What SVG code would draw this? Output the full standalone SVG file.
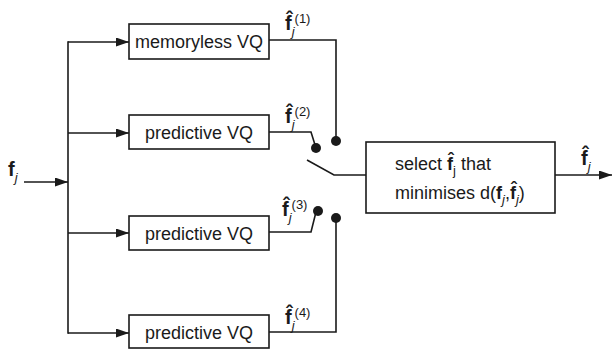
<svg xmlns="http://www.w3.org/2000/svg" width="612" height="350" viewBox="0 0 612 350">
  <style>
    .box { fill: #fff; stroke: #1a1a1a; stroke-width: 1.6; }
    .ln { fill: none; stroke: #1a1a1a; stroke-width: 1.6; }
    .t { font-family: "Liberation Sans", Arial, sans-serif; font-size: 18px; fill: #1a1a1a; }
    .lab { font-family: "Liberation Sans", Arial, sans-serif; font-size: 20px; fill: #1a1a1a; }
    .b { font-weight: bold; }
    .i { font-style: italic; }
    .s { font-size: 13px; }
    .dot { fill: #1a1a1a; }
  </style>
  <defs>
    <marker id="arr" markerWidth="13" markerHeight="9" refX="13" refY="4.5" orient="auto" markerUnits="userSpaceOnUse">
      <path d="M0,0 L13,4.5 L0,9 Z" fill="#1a1a1a"/>
    </marker>
  </defs>

  <rect width="612" height="350" fill="#fff"/>

  <g id="connectors">
    <!-- input and fan-out -->
    <line class="ln" x1="24" y1="182" x2="68" y2="182" marker-end="url(#arr)"/>
    <line class="ln" x1="68" y1="41.2" x2="68" y2="333.8"/>
    <line class="ln" x1="68" y1="42" x2="129" y2="42" marker-end="url(#arr)"/>
    <line class="ln" x1="68" y1="133" x2="129" y2="133" marker-end="url(#arr)"/>
    <line class="ln" x1="68" y1="233" x2="129" y2="233" marker-end="url(#arr)"/>
    <line class="ln" x1="68" y1="333" x2="129" y2="333" marker-end="url(#arr)"/>
    <!-- quantiser outputs to switch contacts -->
    <polyline class="ln" points="269,40 336,40 336,141"/>
    <polyline class="ln" points="269,132 311,132 316,148"/>
    <polyline class="ln" points="269,232 311,232 316,212"/>
    <polyline class="ln" points="269,332 336,332 336,218"/>
    <circle class="dot" cx="336" cy="141" r="5"/>
    <circle class="dot" cx="316" cy="148" r="5"/>
    <circle class="dot" cx="318" cy="211" r="5"/>
    <circle class="dot" cx="336" cy="218" r="5"/>
    <!-- switch arm -->
    <polyline class="ln" points="307,160 334,175 366,175"/>
    <!-- output -->
    <line class="ln" x1="555" y1="175" x2="612" y2="175" marker-end="url(#arr)"/>
  </g>

  <g id="input-label">
    <text class="lab" x="8" y="176"><tspan class="b">f</tspan><tspan class="i s" dy="6">j</tspan></text>
  </g>

  <g id="vq1">
    <rect class="box" x="129" y="24" width="140" height="35"/>
    <text class="t" x="199" y="48" text-anchor="middle">memoryless VQ</text>
  </g>
  <g id="vq2">
    <rect class="box" x="129" y="115" width="140" height="34"/>
    <text class="t" x="199" y="139" text-anchor="middle">predictive VQ</text>
  </g>
  <g id="vq3">
    <rect class="box" x="129" y="216" width="140" height="34"/>
    <text class="t" x="199" y="240" text-anchor="middle">predictive VQ</text>
  </g>
  <g id="vq4">
    <rect class="box" x="129" y="315" width="140" height="33"/>
    <text class="t" x="199" y="339" text-anchor="middle">predictive VQ</text>
  </g>

  <g id="label1">
    <text class="lab" x="285" y="30"><tspan class="b">f̂</tspan><tspan class="i s" dy="6">j</tspan><tspan class="s" dy="-13">(1)</tspan></text>
  </g>
  <g id="label2">
    <text class="lab" x="285" y="123"><tspan class="b">f̂</tspan><tspan class="i s" dy="6">j</tspan><tspan class="s" dy="-13">(2)</tspan></text>
  </g>
  <g id="label3">
    <text class="lab" x="282" y="216"><tspan class="b">f̂</tspan><tspan class="i s" dy="6">j</tspan><tspan class="s" dy="-13">(3)</tspan></text>
  </g>
  <g id="label4">
    <text class="lab" x="285" y="324"><tspan class="b">f̂</tspan><tspan class="i s" dy="6">j</tspan><tspan class="s" dy="-13">(4)</tspan></text>
  </g>

  <g id="selector">
    <rect class="box" x="366" y="142" width="189" height="71"/>
    <text class="t" x="395" y="170">select <tspan class="b">f̂</tspan><tspan class="s" dy="5">j</tspan><tspan dy="-5"> that</tspan></text>
    <text class="t" x="395" y="199">minimises d(<tspan class="b">f</tspan><tspan class="i s" dy="5">j</tspan><tspan dy="-5">,</tspan><tspan class="b">f̂</tspan><tspan class="i s" dy="5">j</tspan><tspan dy="-5">)</tspan></text>
  </g>

  <g id="output-label">
    <text class="lab" x="581" y="165"><tspan class="b">f̂</tspan><tspan class="i s" dy="6">j</tspan></text>
  </g>
</svg>
